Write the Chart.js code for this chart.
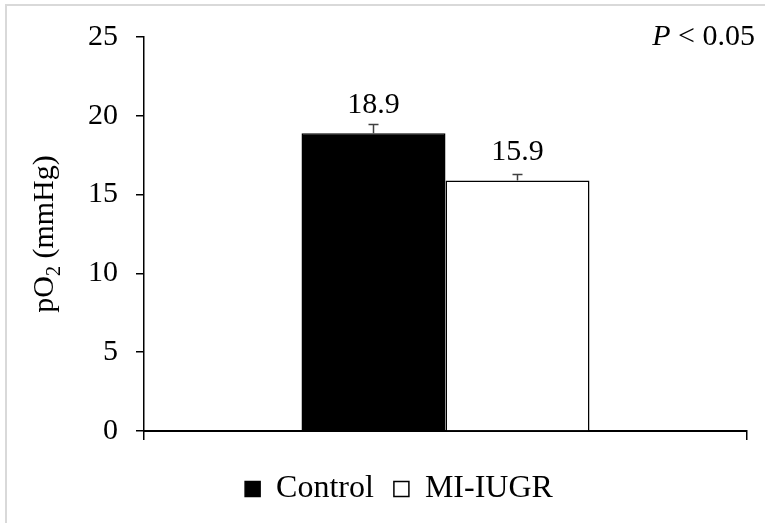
<!DOCTYPE html>
<html>
<head>
<meta charset="utf-8">
<script src="https://cdn.jsdelivr.net/npm/chart.js@4"></script>
<style>
  body { margin: 0; background: #fff; }
</style>
</head>
<body>
<canvas id="chart" width="765" height="523"></canvas>
<script>
const groups = ['Control', 'MI-IUGR']
const po2 = [18.9, 15.9]
const po2Err = [0.55, 0.38]
const barFill = ['#000000', '#ffffff']
const yTicks = [0, 5, 10, 15, 20, 25]
const pValue = '0.05'

const serif = '"Liberation Serif", "Times New Roman", serif'
const fontSize = 30

// frame line, error bars, value labels, axis title and p-value note
const extras = {
  id: 'extras',
  beforeDraw(chart) {
    const ctx = chart.ctx
    ctx.save()
    ctx.strokeStyle = '#d9d9d9'
    ctx.lineWidth = 2
    ctx.beginPath()
    ctx.moveTo(6, chart.height + 5)
    ctx.lineTo(6, 5)
    ctx.lineTo(chart.width + 5, 5)
    ctx.stroke()
    ctx.restore()
  },
  afterDatasetsDraw(chart) {
    const ctx = chart.ctx
    const y = chart.scales.y
    ctx.save()
    chart.data.datasets.forEach((ds, i) => {
      const bar = chart.getDatasetMeta(i).data[0]
      const top = y.getPixelForValue(po2[i] + po2Err[i])
      ctx.strokeStyle = '#404040'
      ctx.lineWidth = 1.5
      ctx.beginPath()
      ctx.moveTo(bar.x, bar.y)
      ctx.lineTo(bar.x, top)
      ctx.moveTo(bar.x - 5, top)
      ctx.lineTo(bar.x + 5, top)
      ctx.stroke()

      ctx.fillStyle = '#000'
      ctx.font = fontSize + 'px ' + serif
      ctx.textAlign = 'center'
      ctx.textBaseline = 'alphabetic'
      ctx.fillText(po2[i].toFixed(1), bar.x, bar.y - 20)
    })

    // y axis title with subscript
    const area = chart.chartArea
    ctx.translate(53, (area.top + area.bottom) / 2)
    ctx.rotate(-Math.PI / 2)
    ctx.textAlign = 'left'
    const big = fontSize + 'px ' + serif
    const small = '20px ' + serif
    ctx.font = big
    const w1 = ctx.measureText('pO').width
    const w3 = ctx.measureText(' (mmHg)').width
    ctx.font = small
    const w2 = ctx.measureText('2').width
    let x = -(w1 + w2 + w3) / 2
    ctx.font = big
    ctx.fillText('pO', x, 0)
    x += w1
    ctx.font = small
    ctx.fillText('2', x, 7)
    x += w2
    ctx.font = big
    ctx.fillText(' (mmHg)', x, 0)
    ctx.restore()

    // significance note, top right
    ctx.save()
    ctx.fillStyle = '#000'
    ctx.textBaseline = 'alphabetic'
    ctx.textAlign = 'left'
    ctx.font = fontSize + 'px ' + serif
    const rest = ' < ' + pValue
    const wr = ctx.measureText(rest).width
    ctx.font = 'italic ' + fontSize + 'px ' + serif
    const wp = ctx.measureText('P').width
    const right = 755
    ctx.fillText('P', right - wr - wp, 45)
    ctx.font = fontSize + 'px ' + serif
    ctx.fillText(rest, right - wr, 45)
    ctx.restore()
  }
}

const chart = document.querySelector('#chart').getContext('2d')

new Chart(chart, {
  type: 'bar',
  data: {
    labels: [''],
    datasets: groups.map((name, i) => ({
      label: name,
      data: [po2[i]],
      backgroundColor: barFill[i],
      borderColor: '#000000',
      borderWidth: 1.5,
      categoryPercentage: 0.4776,
      barPercentage: 1
    }))
  },
  options: {
    responsive: false,
    animation: false,
    layout: { padding: { left: 51, right: 18, top: 37, bottom: 8 } },
    plugins: {
      legend: {
        position: 'bottom',
        labels: {
          font: { family: serif, size: 32 },
          color: '#000',
          boxWidth: 15,
          boxHeight: 15,
          padding: 20
        }
      },
      tooltip: { enabled: false }
    },
    scales: {
      x: {
        grid: { offset: true, drawOnChartArea: false, tickLength: 9, color: '#000', lineWidth: 1.5 },
        border: { color: '#000', width: 2 },
        ticks: { display: false },
        afterFit(scale) { scale.height = 22 }
      },
      y: {
        min: 0,
        max: 25,
        afterBuildTicks(scale) { scale.ticks = yTicks.map(v => ({ value: v })) },
        ticks: { padding: 18, color: '#000', font: { family: serif, size: fontSize } },
        grid: { drawOnChartArea: false, tickLength: 8, color: '#000', lineWidth: 1.5 },
        border: { color: '#000', width: 1.5 },
        afterFit(scale) { scale.width = 93 }
      }
    }
  },
  plugins: [extras]
})
</script>
</body>
</html>
